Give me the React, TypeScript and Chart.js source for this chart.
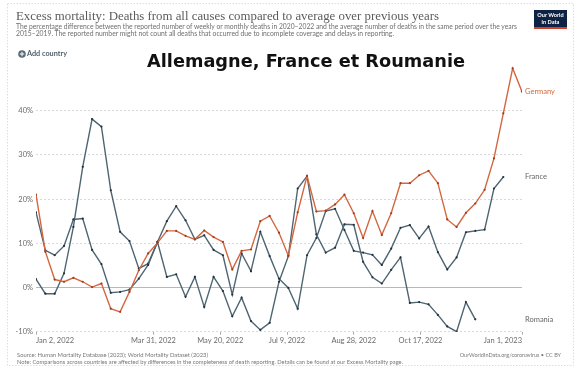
import React, { useEffect, useRef } from "react";
import { Chart, registerables } from "chart.js";

Chart.register(...registerables);

// Weekly excess mortality (%), weeks starting Jan 2, 2022
const germany = [21.0, 8.1, 1.8, 1.3, 2.2, 1.3, 0.1, 0.9, -4.8, -5.5, -1.0, 3.9, 7.7, 10.1, 12.8, 12.8, 11.7, 10.9, 12.9, 11.4, 10.3, 4.1, 8.3, 8.6, 15.0, 16.2, 12.4, 7.2, 17.0, 25.2, 17.2, 17.4, 18.8, 21.0, 16.8, 11.2, 17.3, 11.9, 16.8, 23.6, 23.6, 25.4, 26.4, 23.6, 15.4, 13.7, 16.9, 19.0, 22.1, 29.2, 39.4, 49.6, 44.3];
const france = [17.0, 8.4, 7.3, 9.4, 15.4, 15.6, 8.5, 5.3, -1.2, -1.0, -0.5, 2.0, 5.1, 10.3, 15.0, 18.4, 15.2, 10.9, 11.8, 8.5, 7.3, -1.6, 7.7, 3.7, 12.6, 7.1, 2.0, -0.1, -4.8, 7.3, 11.2, 17.3, 17.8, 13.0, 8.3, 7.9, 7.4, 5.1, 8.8, 13.5, 14.1, 11.1, 13.8, 8.0, 4.1, 6.8, 12.5, 12.8, 13.1, 22.4, 25.0];
const romania = [1.9, -1.4, -1.4, 3.2, 13.7, 27.3, 38.1, 36.4, 22.0, 12.6, 10.5, 4.3, 5.4, 10.3, 2.4, 3.0, -2.1, 2.4, -4.4, 2.4, -0.8, -6.5, -2.3, -7.6, -9.6, -8.0, 1.3, 7.1, 22.4, 25.2, 12.0, 7.9, 9.0, 14.3, 14.2, 5.8, 2.3, 0.9, 4.0, 6.8, -3.5, -3.3, -3.8, -6.2, -8.8, -10.0, -3.3, -7.2];

const seriesNames = ["Germany", "France", "Romania"];
// x tick positions in weeks after Jan 2, 2022
const xTickWeeks = [0, 88 / 7, 138 / 7, 188 / 7, 238 / 7, 288 / 7, 52];
const xTickLabels = ["Jan 2, 2022", "Mar 31, 2022", "May 20, 2022", "Jul 9, 2022", "Aug 28, 2022", "Oct 17, 2022", "Jan 1, 2023"];
const yTickValues = [-10, 0, 10, 20, 30, 40];

const ORANGE = "#d4673f";
const SLATE = "#4e6572";

const toPoints = (arr: number[]) => arr.map((v, i) => ({ x: i, y: v }));

const endLabels = {
  id: "endLabels",
  afterDatasetsDraw(chart: any) {
    const ctx = chart.ctx;
    const ys = chart.scales.y;
    ctx.save();
    ctx.font = "7.5px Lato";
    ctx.textBaseline = "middle";
    ctx.textAlign = "left";
    chart.data.datasets.forEach((ds: any) => {
      const last = ds.data[ds.data.length - 1];
      ctx.fillStyle = ds.endLabelColor;
      ctx.fillText(ds.label, chart.chartArea.right + 3, ys.getPixelForValue(last.y));
    });
    ctx.restore();
  },
};

export default function App() {
  const ref = useRef<HTMLCanvasElement>(null);

  useEffect(() => {
    if (!ref.current) return;
    const chart = new Chart(ref.current, {
      type: "line",
      data: {
        datasets: [
          { label: seriesNames[0], data: toPoints(germany), borderColor: ORANGE, pointBackgroundColor: "#9a3e1f", endLabelColor: ORANGE } as any,
          { label: seriesNames[1], data: toPoints(france), borderColor: SLATE, pointBackgroundColor: "#22323c", endLabelColor: "#666" } as any,
          { label: seriesNames[2], data: toPoints(romania), borderColor: SLATE, pointBackgroundColor: "#22323c", endLabelColor: "#666" } as any,
        ],
      },
      options: {
        animation: false,
        responsive: false,
        devicePixelRatio: 1,
        layout: { padding: { left: 16, right: 58, top: 66.5, bottom: 21.3 } },
        elements: {
          line: { borderWidth: 1.4, tension: 0 },
          point: { radius: 1.1, borderWidth: 0, hoverRadius: 1.1 },
        },
        plugins: { legend: { display: false }, tooltip: { enabled: false } },
        scales: {
          x: {
            type: "linear",
            min: 0,
            max: 52,
            afterBuildTicks: (s: any) => {
              s.ticks = xTickWeeks.map((v) => ({ value: v }));
            },
            afterFit: (s: any) => {
              s.height = 16;
            },
            ticks: {
              autoSkip: false,
              maxRotation: 0,
              align: "inner",
              padding: 1,
              color: "#6b6b6b",
              font: { family: "Lato", size: 7.5 },
              callback: (_v: any, i: number) => xTickLabels[i],
            },
            grid: { drawOnChartArea: false, drawTicks: true, tickLength: 3, color: "#aaa" },
            border: { display: false },
          },
          y: {
            min: -10,
            max: 50,
            afterBuildTicks: (s: any) => {
              s.ticks = yTickValues.map((v) => ({ value: v }));
            },
            afterFit: (s: any) => {
              s.width = 20;
            },
            ticks: {
              padding: 3,
              color: "#6b6b6b",
              font: { family: "Lato", size: 7.5 },
              callback: (v: any) => v + "%",
            },
            grid: {
              drawTicks: false,
              color: (c: any) => (c.tick && c.tick.value === 0 ? "#b8b8b8" : "#d9d9d9"),
              lineWidth: 1,
            },
            border: {
              display: false,
              dash: (c: any) => (c.tick && c.tick.value === 0 ? [] : [2, 2]),
            },
          },
        },
      } as any,
      plugins: [endLabels],
    });
    return () => chart.destroy();
  }, []);

  const sans = "Lato, 'Noto Sans', sans-serif";
  return (
    <div style={{ position: "fixed", left: 0, top: 0, width: 580, height: 369, background: "#fff", overflow: "hidden" }}>
      <canvas ref={ref} width={580} height={369} style={{ position: "absolute", left: 0, top: 0, width: 580, height: 369 }} />
      <svg width={580} height={369} style={{ position: "absolute", left: 0, top: 0, pointerEvents: "none" }}>
        <rect x={7.5} y={3.5} width={566} height={362} fill="none" stroke="#dedede" strokeDasharray="1.5 1.5" />
        <text x={16} y={20} fontFamily="'Liberation Serif', serif" fontSize={12.8} fill="#5b5b5b" textLength={423} lengthAdjust="spacingAndGlyphs">
          Excess mortality: Deaths from all causes compared to average over previous years
        </text>
        <text x={16} y={28.8} fontFamily={sans} fontSize={6.6} fill="#6e6e6e" textLength={501} lengthAdjust="spacingAndGlyphs">
          The percentage difference between the reported number of weekly or monthly deaths in 2020–2022 and the average number of deaths in the same period over the years
        </text>
        <text x={16} y={35.8} fontFamily={sans} fontSize={6.6} fill="#6e6e6e" textLength={378} lengthAdjust="spacingAndGlyphs">
          2015–2019. The reported number might not count all deaths that occurred due to incomplete coverage and delays in reporting.
        </text>
        <circle cx={22} cy={54} r={3.8} fill="#5a6a76" />
        <rect x={19.8} y={53.5} width={4.4} height={1} fill="#fff" />
        <rect x={21.5} y={51.8} width={1} height={4.4} fill="#fff" />
        <text x={27} y={56.4} fontFamily={sans} fontSize={6.8} fontWeight={700} fill="#4f5f6b" textLength={40} lengthAdjust="spacingAndGlyphs">
          Add country
        </text>
        <text x={147} y={67} fontFamily="'DejaVu Sans', sans-serif" fontSize={17.6} fontWeight={700} fill="#111" textLength={318} lengthAdjust="spacingAndGlyphs">
          Allemagne, France et Roumanie
        </text>
        <rect x={534} y={10} width={33} height={17} fill="#0e2344" />
        <rect x={534} y={27} width={33} height={2} fill="#d1432b" />
        <text x={550.5} y={17.2} textAnchor="middle" fontFamily={sans} fontSize={5.6} fontWeight={700} fill="#fff">
          Our World
        </text>
        <text x={550.5} y={24} textAnchor="middle" fontFamily={sans} fontSize={5.6} fontWeight={700} fill="#fff">
          in Data
        </text>
        <text x={17} y={357} fontFamily={sans} fontSize={5.5} fill="#777" textLength={191} lengthAdjust="spacingAndGlyphs">
          Source: Human Mortality Database (2023); World Mortality Dataset (2023)
        </text>
        <text x={17} y={364} fontFamily={sans} fontSize={5.5} fill="#777" textLength={386} lengthAdjust="spacingAndGlyphs">
          Note: Comparisons across countries are affected by differences in the completeness of death reporting. Details can be found at our Excess Mortality page.
        </text>
        <text x={561} y={357} textAnchor="end" fontFamily={sans} fontSize={5.5} fill="#777">
          OurWorldInData.org/coronavirus • CC BY
        </text>
      </svg>
    </div>
  );
}
